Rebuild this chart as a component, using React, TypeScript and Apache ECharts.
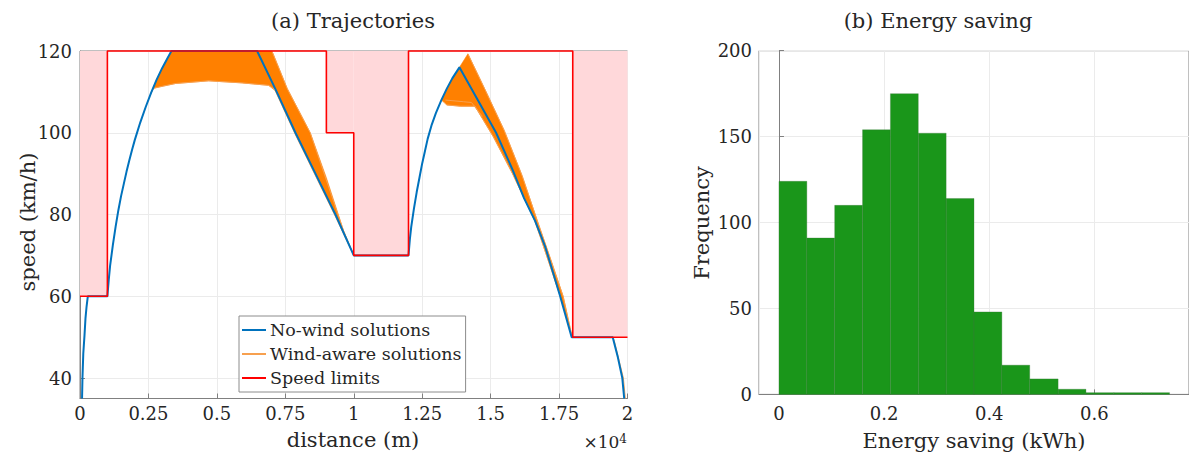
import React, { useEffect, useRef } from "react";
import * as echarts from "echarts";

const FONT = "'DejaVu Serif', serif";
const TXT = "#262626";
const AXIS = "#808080";
const GRID = "#ebebeb";

// ---- (a) Trajectories ----
// speed limit segments: start (m), end (m), limit (km/h)
const limitStarts = [0, 1000, 9000, 10000, 12000, 18000];
const limitEnds = [1000, 9000, 10000, 12000, 18000, 20000];
const limitValues = [60, 120, 100, 70, 120, 50];

// no-wind solution [distance m, speed km/h]
const noWindTrajectory = [
  [75, 35], [90, 40], [120, 46], [165, 50.5], [200, 54.6], [240, 57.5], [285, 60], [1000, 60],
  [1050, 64], [1100, 67.5], [1200, 72.5], [1300, 77], [1400, 81], [1500, 84.5], [1600, 87.5],
  [1700, 90.5], [1800, 93.2], [1900, 95.8], [2000, 98.2], [2200, 102.5], [2400, 106.3],
  [2600, 109.8], [2800, 113], [3000, 115.8], [3200, 118.3], [3340, 120], [6470, 120],
  [7130, 110.8], [7870, 100], [8600, 90], [9330, 80], [10000, 70], [12000, 70], [12050, 74],
  [12100, 77], [12200, 81.5], [12300, 85.5], [12400, 89], [12500, 92.5], [12600, 95.5],
  [12700, 98.5], [12850, 102], [13000, 104.8], [13200, 108], [13400, 110.8], [13600, 113.3],
  [13860, 116], [14500, 108.4], [15200, 100], [15800, 91], [16220, 84], [16620, 78.5],
  [17000, 72], [17540, 60], [17960, 50], [19460, 50], [19650, 45], [19810, 40], [19880, 35],
];

// wind-aware solutions: envelopes of the fan of trajectories
const windBandFirst = [
  [2600, 109.8], [2800, 113], [3000, 115.8], [3200, 118.3], [3340, 120], [7010, 120],
  [7570, 110.8], [8410, 100], [9000, 89], [9630, 76], [10000, 70], [9330, 80], [8600, 90],
  [7870, 100], [7130, 110.6], [6890, 111.6], [5920, 112.2], [4700, 112.7], [3490, 112.05],
  [3000, 111.4], [2700, 110.9],
];
const windBandSecond = [
  [13200, 108], [13400, 110.8], [13600, 113.3], [13860, 116], [14170, 119.3], [14800, 110.5],
  [15500, 100.5], [16150, 89.5], [16710, 78.4], [17200, 69], [17650, 60], [17980, 50],
  [17540, 60], [16620, 78.5], [15800, 90], [15100, 99], [14430, 106.5], [13900, 106.5],
  [13400, 106.8],
];
// individual wind-aware trajectories at the edges of the fan
const windLowFirst = [
  [2700, 110.9], [3490, 112.05], [4700, 112.7], [5920, 112.2], [6890, 111.6], [7130, 110.3],
  [7870, 99.5], [9330, 79.5], [10000, 70],
];
const windHighFirst = [[7010, 120], [7570, 110.8], [8410, 100], [9630, 76], [10000, 70]];
const windLowSecond = [
  [13300, 107.5], [13400, 106.8], [13900, 106.5], [14430, 106.5], [15100, 99], [15800, 90],
  [16620, 78.3], [17540, 60.2],
];
const windMidSecond = [[13350, 108], [14000, 107.6], [14300, 107.4], [14700, 104]];
const windHighSecond = [[14170, 119.3], [14800, 110.5], [15500, 100.5], [16150, 89.5], [16710, 78.4], [17650, 60], [17980, 50]];
const windEnd = [[19460, 50], [19520, 49], [19850, 40], [19920, 35]];

// ---- (b) Energy saving histogram ----
const binEdges = [0, 0.053, 0.106, 0.159, 0.212, 0.265, 0.318, 0.371, 0.424, 0.477, 0.531, 0.584, 0.637, 0.69, 0.743];
const binCounts = [124, 91, 110, 154, 175, 152, 114, 48, 17, 9, 3, 1, 1, 1];

const speedTicksShown = [40, 60, 80, 100, 120];

export default function App() {
  const ref = useRef<HTMLDivElement>(null);

  useEffect(() => {
    if (!ref.current) return;
    const chart = echarts.init(ref.current, undefined, { renderer: "svg" });

    const limitLine: number[][] = [];
    limitStarts.forEach((s, i) => {
      limitLine.push([s, limitValues[i]]);
      limitLine.push([limitEnds[i], limitValues[i]]);
    });
    const forbidden = limitStarts
      .map((s, i) => [s, limitEnds[i], limitValues[i]])
      .filter((d) => d[2] < 120);
    const bands = [windBandFirst, windBandSecond];
    const bins = binCounts.map((c, i) => [binEdges[i], binEdges[i + 1], c]);

    const tickLabel = { fontFamily: FONT, fontSize: 18, color: TXT };
    const windLines = [windLowFirst, windHighFirst, windLowSecond, windMidSecond, windHighSecond, windEnd];

    const textStyle = (size: number, align: string) => ({
      fontFamily: FONT,
      fontSize: size,
      fill: TXT,
      textAlign: align,
      textVerticalAlign: "middle",
      align,
      verticalAlign: "middle",
    });

    const option: any = {
      animation: false,
      grid: [
        { left: 80, top: 51, width: 547.5, height: 347.5, show: true, borderColor: AXIS, borderWidth: 1, backgroundColor: "transparent" },
        { left: 759, top: 50.7, width: 432, height: 343.7, show: true, borderColor: AXIS, borderWidth: 1, backgroundColor: "transparent" },
      ],
      xAxis: [
        {
          type: "value", gridIndex: 0, min: 0, max: 20000, interval: 2500,
          axisLine: { show: true, lineStyle: { color: AXIS } },
          axisTick: { show: true, inside: true, length: 5, lineStyle: { color: AXIS } },
          axisLabel: { ...tickLabel, margin: 6, formatter: (v: number) => String(v / 10000) },
          splitLine: { show: true, lineStyle: { color: GRID } },
        },
        {
          type: "value", gridIndex: 1, min: -0.038, max: 0.78,
          axisLine: { show: true, lineStyle: { color: AXIS } },
          axisTick: { show: true, inside: true, length: 5, lineStyle: { color: AXIS } },
          axisLabel: { ...tickLabel, margin: 10, showMinLabel: false, showMaxLabel: false },
          splitLine: { show: true, lineStyle: { color: GRID } },
        },
      ],
      yAxis: [
        {
          type: "value", gridIndex: 0, min: 35, max: 120,
          axisLine: { show: true, lineStyle: { color: AXIS } },
          axisTick: { show: true, inside: true, length: 5, lineStyle: { color: AXIS } },
          axisLabel: {
            ...tickLabel, margin: 8, showMinLabel: false,
            formatter: (v: number) => (speedTicksShown.includes(v) ? String(v) : ""),
          },
          splitLine: { show: true, lineStyle: { color: GRID } },
        },
        {
          type: "value", gridIndex: 1, min: 0, max: 200, interval: 50,
          axisLine: { show: true, lineStyle: { color: AXIS } },
          axisTick: { show: true, inside: true, length: 5, lineStyle: { color: AXIS } },
          axisLabel: { ...tickLabel, margin: 7 },
          splitLine: { show: true, lineStyle: { color: GRID } },
        },
      ],
      legend: {
        show: true,
        orient: "vertical",
        left: 239,
        top: 316,
        width: 227,
        padding: [4, 4, 4, 3],
        itemGap: 4,
        itemWidth: 24,
        itemHeight: 2,
        backgroundColor: "#ffffff",
        borderColor: "#8c8c8c",
        borderWidth: 1,
        borderRadius: 0,
        textStyle: { fontFamily: FONT, fontSize: 17.5, color: TXT, lineHeight: 20, padding: [0, 0, 0, -1] },
        data: [
          { name: "No-wind solutions", icon: "rect" },
          { name: "Wind-aware solutions", icon: "rect" },
          { name: "Speed limits", icon: "rect" },
        ],
        z: 20,
      },
      graphic: [
        { type: "text", x: 353, y: 21, style: { text: "(a) Trajectories", ...textStyle(21, "center") } },
        { type: "text", x: 938, y: 21, style: { text: "(b) Energy saving", ...textStyle(21, "center") } },
        { type: "text", x: 28, y: 222, rotation: Math.PI / 2, style: { text: "speed (km/h)", ...textStyle(21, "center") } },
        { type: "text", x: 353, y: 440, style: { text: "distance (m)", ...textStyle(21, "center") } },
        {
          type: "text", x: 627, y: 442,
          style: {
            text: "×10{sup|4}", ...textStyle(17, "right"),
            rich: { sup: { fontFamily: FONT, fontSize: 12, fill: TXT, color: TXT, verticalAlign: "top", padding: [0, 0, 7, 0] } },
          },
        },
        { type: "text", x: 702, y: 223, rotation: Math.PI / 2, style: { text: "Frequency", ...textStyle(21, "center") } },
        { type: "text", x: 974, y: 441, style: { text: "Energy saving (kWh)", ...textStyle(21, "center") } },
      ],
      series: [
        {
          type: "custom",
          name: "forbidden",
          xAxisIndex: 0, yAxisIndex: 0,
          z: 1,
          silent: true,
          dimensions: ["x0", "x1", "lim"],
          encode: { x: [0, 1], y: [2] },
          data: forbidden,
          renderItem: (params: any, api: any) => {
            const p0 = api.coord([api.value(0), 120]);
            const p1 = api.coord([api.value(1), api.value(2)]);
            return { type: "rect", shape: { x: p0[0], y: p0[1], width: p1[0] - p0[0], height: p1[1] - p0[1] }, style: { fill: "#ffd8da" } };
          },
        },
        {
          type: "custom",
          name: "wind-band",
          xAxisIndex: 0, yAxisIndex: 0,
          z: 2,
          silent: true,
          data: bands.map((b, i) => [b[0][0], b[0][1], i]),
          renderItem: (params: any, api: any) => {
            const pts = bands[api.value(2)].map((p) => api.coord(p));
            return { type: "polygon", shape: { points: pts }, style: { fill: "#ff8000", stroke: "#ff8a1a", lineWidth: 0.6 } };
          },
        },
        ...windLines.map((d) => ({
          type: "line",
          name: "Wind-aware solutions",
          xAxisIndex: 0, yAxisIndex: 0,
          z: 3,
          data: d,
          symbol: "none",
          clip: false,
          color: "#f7a04f",
          lineStyle: { color: "#f7a04f", width: 1 },
        })),
        {
          type: "line",
          name: "No-wind solutions",
          xAxisIndex: 0, yAxisIndex: 0,
          z: 4,
          data: noWindTrajectory,
          symbol: "none",
          clip: false,
          color: "#0072bd",
          lineStyle: { color: "#0072bd", width: 2 },
        },
        {
          type: "line",
          name: "Speed limits",
          xAxisIndex: 0, yAxisIndex: 0,
          z: 5,
          data: limitLine,
          symbol: "none",
          clip: false,
          color: "#ff0000",
          lineStyle: { color: "#ff0000", width: 1.6 },
        },
        {
          type: "custom",
          name: "histogram",
          xAxisIndex: 1, yAxisIndex: 1,
          z: 2,
          dimensions: ["x0", "x1", "count"],
          encode: { x: [0, 1], y: [2] },
          data: bins,
          renderItem: (params: any, api: any) => {
            const p0 = api.coord([api.value(0), api.value(2)]);
            const p1 = api.coord([api.value(1), 0]);
            return {
              type: "rect",
              shape: { x: p0[0], y: p0[1], width: p1[0] - p0[0], height: p1[1] - p0[1] },
              style: { fill: "#1a961a", stroke: "rgba(60,120,60,0.55)", lineWidth: 0.6 },
            };
          },
        },
      ],
    };

    chart.setOption(option);
    return () => chart.dispose();
  }, []);

  return (
    <div
      ref={ref}
      style={{ position: "fixed", left: 0, top: 0, width: 1189, height: 459, background: "#ffffff" }}
    />
  );
}
